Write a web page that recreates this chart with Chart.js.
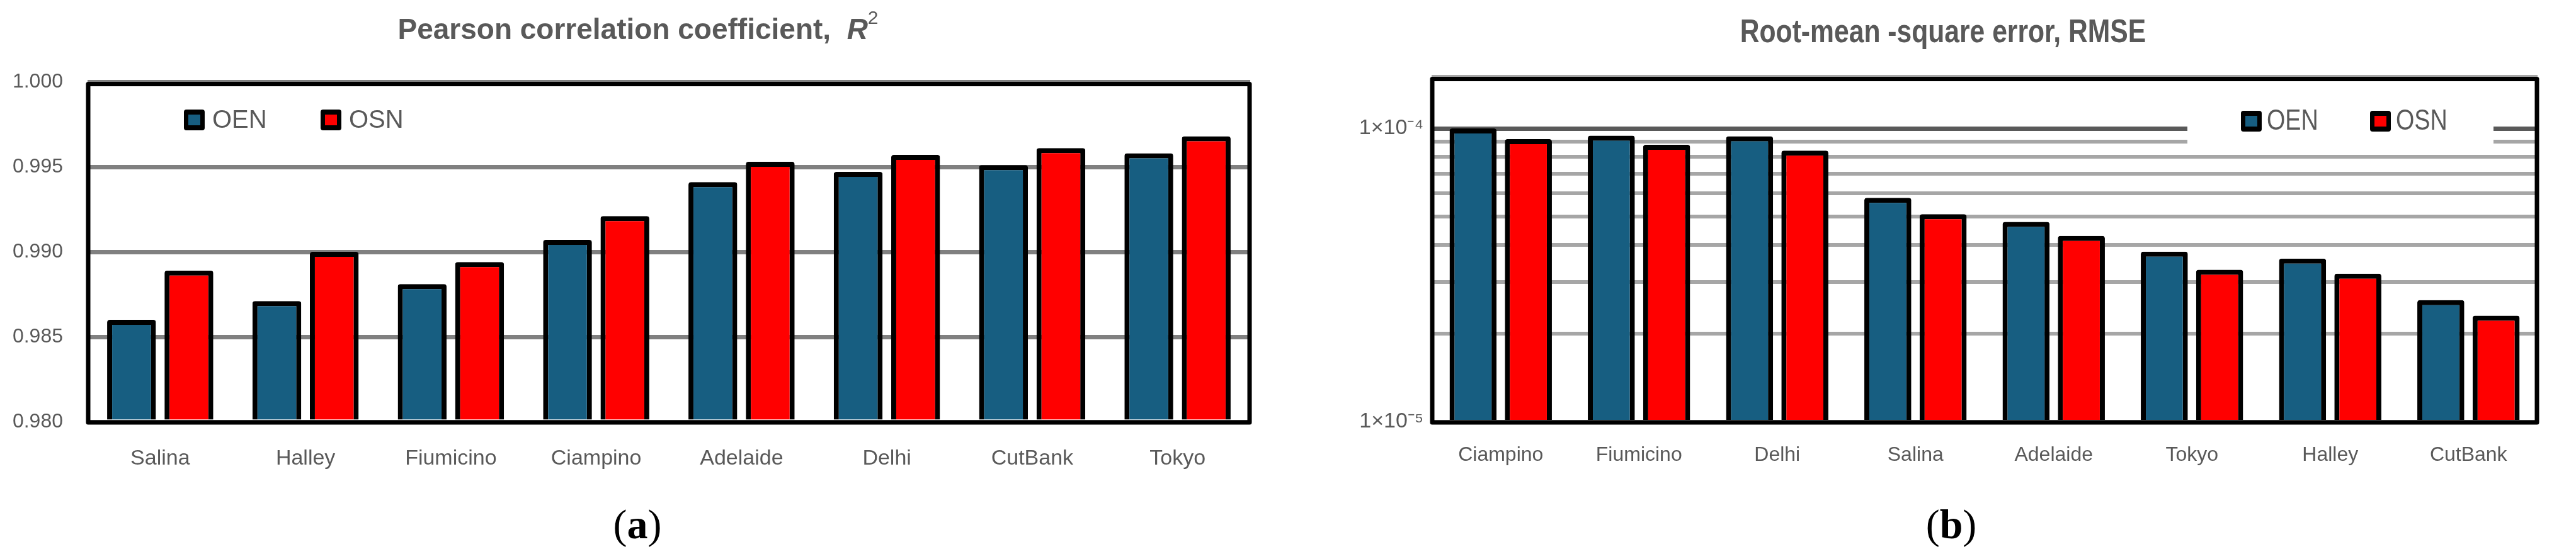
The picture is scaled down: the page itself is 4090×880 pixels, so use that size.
<!DOCTYPE html>
<html>
<head>
<meta charset="utf-8">
<title>R2 and RMSE, OEN vs OSN</title>
<script src="https://cdn.jsdelivr.net/npm/chart.js@4.4.1/dist/chart.umd.min.js"></script>
<style>
  body { margin: 0; background: #fff; width: 4090px; height: 880px; position: relative; overflow: hidden; }
  .box { position: absolute; top: 0; width: 2045px; height: 800px; }
  .tag { position: absolute; top: 800px; width: 200px; text-align: center; color: #000;
         font: 66px/66px 'Liberation Serif', 'Times New Roman', serif; }
</style>
</head>
<body>
<div class="box" style="left:0"><canvas id="r2chart"></canvas></div>
<div class="box" style="left:2045px"><canvas id="rmsechart"></canvas></div>
<div class="tag" style="left:912px">(<b>a</b>)</div>
<div class="tag" style="left:2998px">(<b>b</b>)</div>
<script>
'use strict';

// panel (a): Pearson R^2 per site
const r2Sites = ['Salina', 'Halley', 'Fiumicino', 'Ciampino', 'Adelaide', 'Delhi', 'CutBank', 'Tokyo'];
const r2OEN = [0.9860, 0.9871, 0.9881, 0.9907, 0.9941, 0.9947, 0.9951, 0.9958];
const r2OSN = [0.9889, 0.9900, 0.9894, 0.9921, 0.9953, 0.9957, 0.9961, 0.9968];
const r2Ticks = [0.980, 0.985, 0.990, 0.995, 1.000];

// panel (b): RMSE per site (log axis)
const rmseSites = ['Ciampino', 'Fiumicino', 'Delhi', 'Salina', 'Adelaide', 'Tokyo', 'Halley', 'CutBank'];
const rmseOEN = [1.0e-4, 9.45e-5, 9.4e-5, 5.8e-5, 4.8e-5, 3.8e-5, 3.6e-5, 2.6e-5];
const rmseOSN = [9.2e-5, 8.8e-5, 8.4e-5, 5.1e-5, 4.3e-5, 3.3e-5, 3.2e-5, 2.3e-5];
const rmseDecades = [1e-5, 1e-4];
const rmseDecadeLabels = ['1×10⁻⁵', '1×10⁻⁴'];
const rmseMax = 1.5e-4;

const OEN_COLOR = '#175e81';
const OSN_COLOR = '#ff0000';
const TEXT = '#595959';
const SANS = "'Liberation Sans', Arial, sans-serif";

// title built from several runs (bold, italic, superscript); sx squeezes it sideways
let runTitle = {
  id: 'runTitle',
  afterDraw(chart, args, opts) {
    let ctx = chart.ctx;
    let sx = opts.sx || 1;
    ctx.save();
    ctx.fillStyle = TEXT;
    ctx.textBaseline = 'alphabetic';
    let total = 0;
    opts.runs.forEach(run => { ctx.font = run.font; total += ctx.measureText(run.text).width; });
    ctx.translate(opts.x - total * sx / 2, opts.y);
    ctx.scale(sx, 1);
    let x = 0;
    opts.runs.forEach(run => {
      ctx.font = run.font;
      ctx.fillText(run.text, x, -(run.rise || 0));
      x += ctx.measureText(run.text).width;
    });
    ctx.restore();
  }
};

// legend sitting inside the plot area, boxed markers like Excel
let boxLegend = {
  id: 'boxLegend',
  afterDraw(chart, args, opts) {
    let ctx = chart.ctx;
    let sx = opts.sx || 1;
    ctx.save();
    if (opts.clear) {
      ctx.fillStyle = '#fff';
      ctx.fillRect(opts.clear[0], opts.clear[1], opts.clear[2], opts.clear[3]);
    }
    ctx.font = opts.font;
    ctx.textBaseline = 'middle';
    let s = opts.size;
    chart.data.datasets.forEach((ds, i) => {
      let x = opts.xs[i];
      ctx.fillStyle = '#000';
      ctx.beginPath();
      ctx.roundRect(x, opts.y, s, s, 4);
      ctx.fill();
      ctx.fillStyle = ds.backgroundColor;
      ctx.fillRect(x + 7, opts.y + 8, s - 14, s - 16);
      ctx.fillStyle = TEXT;
      ctx.save();
      ctx.translate(x + s + opts.gap, opts.y + s / 2 + 1);
      ctx.scale(sx, 1);
      ctx.fillText(ds.label, 0, 0);
      ctx.restore();
    });
    ctx.restore();
  }
};

// heavy black border round the plot area
let frame = {
  id: 'frame',
  afterDatasetsDraw(chart) {
    let {left, top, right, bottom} = chart.chartArea;
    let ctx = chart.ctx;
    ctx.save();
    ctx.strokeStyle = '#000';
    ctx.lineWidth = 7;
    ctx.lineJoin = 'round';
    ctx.strokeRect(left + 1, top + 3.5, right - left - 2, bottom - top - 2.5);
    ctx.restore();
  }
};

function barSet(label, data, color, base) {
  return {
    label: label,
    data: data,
    backgroundColor: color,
    borderColor: '#000',
    borderWidth: 8,
    borderRadius: 4,
    base: base
  };
}

function isDecade(v) {
  let e = Math.log10(v);
  return Math.abs(e - Math.round(e)) < 1e-6;
}

// (a) R^2
new Chart(document.getElementById('r2chart'), {
  type: 'bar',
  data: {
    labels: r2Sites,
    datasets: [
      barSet('OEN', r2OEN, OEN_COLOR, r2Ticks[0]),
      barSet('OSN', r2OSN, OSN_COLOR, r2Ticks[0])
    ]
  },
  plugins: [frame, boxLegend, runTitle],
  options: {
    responsive: true,
    maintainAspectRatio: false,
    animation: false,
    datasets: { bar: { categoryPercentage: 0.79, barPercentage: 0.85 } },
    layout: { padding: { left: 0, right: 60, top: 130, bottom: 0 } },
    plugins: {
      legend: { display: false },
      title: { display: false },
      tooltip: { enabled: false },
      runTitle: {
        x: 1013, y: 62,
        runs: [
          { text: 'Pearson correlation coefficient,  ', font: 'bold 46px ' + SANS },
          { text: 'R', font: 'italic bold 46px ' + SANS },
          { text: '2', font: '30px ' + SANS, rise: 24 }
        ]
      },
      boxLegend: { xs: [292, 509], y: 174, size: 33, gap: 12, font: '40px ' + SANS }
    },
    scales: {
      x: {
        afterFit: s => { s.height = 130; },
        grid: { display: false },
        border: { display: false },
        ticks: { padding: 30, color: TEXT, font: { family: SANS, size: 34 } }
      },
      y: {
        min: r2Ticks[0],
        max: r2Ticks[r2Ticks.length - 1],
        afterFit: s => { s.width = 139; },
        afterBuildTicks: s => { s.ticks = r2Ticks.map(v => ({ value: v })); },
        grid: { color: '#808080', lineWidth: 7, drawTicks: false },
        border: { display: false },
        ticks: {
          padding: 39, color: TEXT, font: { family: SANS, size: 32 },
          callback: v => v.toFixed(3)
        }
      }
    }
  }
});

// (b) RMSE
new Chart(document.getElementById('rmsechart'), {
  type: 'bar',
  data: {
    labels: rmseSites,
    datasets: [
      barSet('OEN', rmseOEN, OEN_COLOR, rmseDecades[0]),
      barSet('OSN', rmseOSN, OSN_COLOR, rmseDecades[0])
    ]
  },
  plugins: [frame, boxLegend, runTitle],
  options: {
    responsive: true,
    maintainAspectRatio: false,
    animation: false,
    datasets: { bar: { categoryPercentage: 0.80, barPercentage: 0.85 } },
    layout: { padding: { left: 0, right: 61, top: 122, bottom: 0 } },
    plugins: {
      legend: { display: false },
      title: { display: false },
      tooltip: { enabled: false },
      runTitle: {
        x: 1040, y: 67, sx: 0.82,
        runs: [{ text: 'Root-mean -square error, RMSE', font: 'bold 52px ' + SANS }]
      },
      boxLegend: {
        xs: [1513, 1718], y: 176, size: 33, gap: 8, sx: 0.82, font: '46px ' + SANS,
        clear: [1428, 190, 486, 50]
      }
    },
    scales: {
      x: {
        afterFit: s => { s.height = 130; },
        grid: { display: false },
        border: { display: false },
        ticks: { padding: 26, color: TEXT, font: { family: SANS, size: 32 } }
      },
      y: {
        type: 'logarithmic',
        min: rmseDecades[0],
        max: rmseMax,
        afterFit: s => { s.width = 228; },
        grid: {
          drawTicks: false,
          color: c => (Math.abs(c.tick.value - rmseDecades[1]) < 1e-12 ? '#595959' : '#a6a6a6'),
          lineWidth: c => (Math.abs(c.tick.value - rmseDecades[1]) < 1e-12 ? 7 : 6)
        },
        border: { display: false },
        ticks: {
          autoSkip: false, padding: 13, color: TEXT, font: { family: SANS, size: 34 },
          callback: v => {
            if (!isDecade(v)) return '';
            let i = rmseDecades.findIndex(d => Math.abs(d - v) / d < 1e-6);
            return i >= 0 ? rmseDecadeLabels[i] : '';
          }
        }
      }
    }
  }
});
</script>
</body>
</html>
